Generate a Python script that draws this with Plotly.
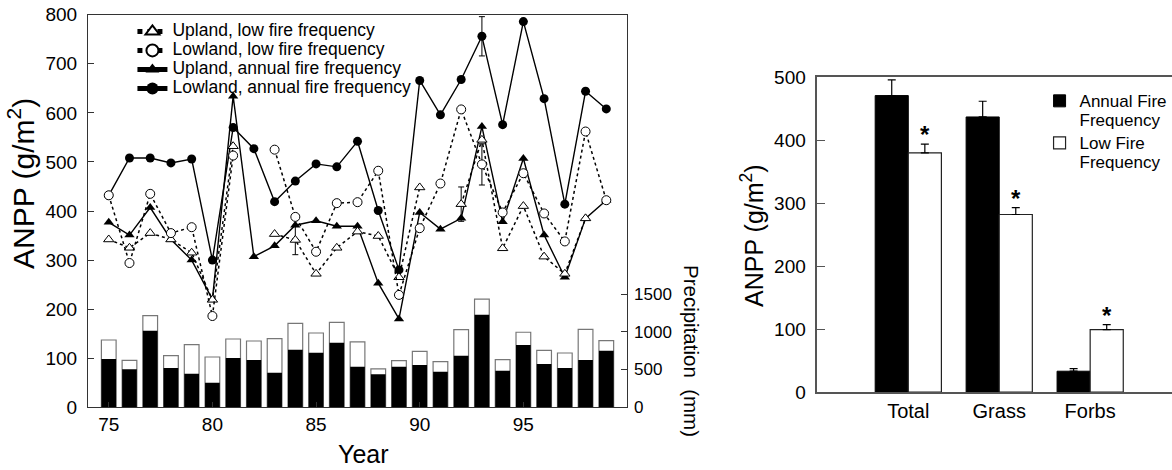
import plotly.graph_objects as go

# ---- Left panel: yearly ANPP by topography / fire regime, with precipitation ----
years = list(range(75, 100))

upland_low = [342, 325, 355, 342, 315, 219, 532, None, 353, 341, 272, 325, 358,
              349, 265, 448, None, 414, 545, 324, 410, 307, 272, 385, None]
lowland_low = [432, 294, 435, 355, 367, 186, 513, None, 525, 388, 317, 416, 418,
               482, 229, 365, 456, 607, 495, 397, 477, 395, 338, 562, 422]
upland_annual = [377, 351, 407, 342, 300, 220, 634, 307, 329, 371, 380, 369, 369,
                 253, 180, 397, 363, 385, 572, 378, 507, 351, 265, 385, 422]
lowland_annual = [432, 508, 508, 498, 506, 300, 570, 527, 419, 461, 496, 490, 542,
                  401, 280, 666, 596, 668, 756, 576, 786, 629, 414, 644, 608]

# standard errors shown only for a few years
upland_low_err = [None] * 9 + [30] + [None] * 7 + [35] + [None] * 7
lowland_low_err = [None] * 18 + [42] + [None] * 6
lowland_annual_err = [None] * 18 + [40] + [None] * 6

# precipitation (mm): annual total and growing-season part
precip_total = [891, 620, 1213, 683, 829, 666, 904, 878, 909, 1111, 984, 1125, 865,
                510, 617, 741, 604, 1028, 1433, 631, 994, 754, 719, 1032, 882]
precip_growing = [639, 503, 1014, 520, 445, 326, 652, 626, 458, 762, 723, 856, 538,
                  436, 538, 560, 472, 683, 1226, 485, 824, 573, 520, 626, 750]

year_ticks = [75, 80, 85, 90, 95]
precip_ticks = [0, 500, 1000, 1500]

# ---- Right panel: mean ANPP by component ----
components = ["Total", "Grass", "Forbs"]
annual_mean = [471, 437, 33]
annual_se = [25, 25, 4]
low_mean = [380, 282, 99]
low_se = [14, 11, 8]

FONT = "Liberation Sans, Arial, sans-serif"
BAR_W = 0.364
W, H = 1172, 470


def big(label, size):
    """Legend label rendered larger than the legend's nominal row height."""
    return "<br>".join(f'<span style="font-size:{size}px">{part}</span>'
                       for part in label.split("\n"))


fig = go.Figure()

# precipitation bars (right axis of left panel)
fig.add_trace(go.Bar(
    x=years, y=precip_total, xaxis="x", yaxis="y2", width=0.71, offset=-0.355,
    marker=dict(color="white", line=dict(color="#777", width=1.2)),
    showlegend=False, hoverinfo="skip"))
fig.add_trace(go.Bar(
    x=years, y=precip_growing, xaxis="x", yaxis="y2", width=0.71, offset=-0.355,
    marker=dict(color="black", line=dict(color="black", width=0)),
    showlegend=False, hoverinfo="skip"))

ebar = dict(type="data", color="black", thickness=1, width=3)

fig.add_trace(go.Scatter(
    x=years, y=upland_annual, xaxis="x", yaxis="y", mode="lines+markers",
    name=big("Upland, annual fire frequency", 17.5), legend="legend", legendrank=3,
    line=dict(color="black", width=1.4),
    marker=dict(symbol="triangle-up", size=9, color="black")))
fig.add_trace(go.Scatter(
    x=years, y=lowland_annual, xaxis="x", yaxis="y", mode="lines+markers",
    name=big("Lowland, annual fire frequency", 17.5), legend="legend", legendrank=4,
    line=dict(color="black", width=1.4),
    marker=dict(symbol="circle", size=9, color="black"),
    error_y=dict(array=lowland_annual_err, **ebar)))
fig.add_trace(go.Scatter(
    x=years, y=upland_low, xaxis="x", yaxis="y", mode="lines+markers",
    name=big("Upland, low fire frequency", 17.5), legend="legend", legendrank=1,
    line=dict(color="black", width=1.5, dash="dot"),
    marker=dict(symbol="triangle-up", size=9, color="white",
                line=dict(color="black", width=1)),
    error_y=dict(array=upland_low_err, **ebar)))
fig.add_trace(go.Scatter(
    x=years, y=lowland_low, xaxis="x", yaxis="y", mode="lines+markers",
    name=big("Lowland, low fire frequency", 17.5), legend="legend", legendrank=2,
    line=dict(color="black", width=1.5, dash="dot"),
    marker=dict(symbol="circle", size=9, color="white",
                line=dict(color="black", width=1)),
    error_y=dict(array=lowland_low_err, **ebar)))

# right panel bars with one-sided standard errors
fig.add_trace(go.Bar(
    x=components, y=annual_mean, xaxis="x2", yaxis="y3",
    width=BAR_W, offset=-BAR_W, name=big("Annual Fire\nFrequency", 17),
    legend="legend2", marker=dict(color="black", line=dict(color="black", width=1)),
    error_y=dict(type="data", symmetric=False, array=annual_se,
                 arrayminus=[0] * len(annual_se), color="black", thickness=1.2, width=4)))
fig.add_trace(go.Bar(
    x=components, y=low_mean, xaxis="x2", yaxis="y3",
    width=BAR_W, offset=0, name=big("Low Fire\nFrequency", 17),
    legend="legend2", marker=dict(color="white", line=dict(color="#222", width=1.2)),
    error_y=dict(type="data", symmetric=False, array=low_se,
                 arrayminus=[0] * len(low_se), color="black", thickness=1.2, width=4)))

title_common = dict(xref="paper", yref="paper", showarrow=False,
                    xanchor="center", yanchor="middle")
annotations = [
    dict(text="Year", x=363 / W, y=1 - 454 / H, font=dict(size=25), **title_common),
    dict(text="ANPP (g/m<sup>2</sup>)", x=21 / W, y=1 - 184 / H, textangle=-90,
         font=dict(size=30), **title_common),
    dict(text="ANPP (g/m<sup>2</sup>)", x=752 / W, y=1 - 236 / H, textangle=-90,
         font=dict(size=25), **title_common),
    dict(text="Precipitation\u00a0\u00a0(mm)", x=692 / W, y=1 - 351 / H,
         textangle=90, font=dict(size=20.5), **title_common),
]
# significance markers above the low-fire bars
for i, (m, s) in enumerate(zip(low_mean, low_se)):
    annotations.append(dict(
        text="<b>*</b>", x=i + BAR_W / 2, y=m + s, xref="x2", yref="y3",
        showarrow=False, xanchor="center", yanchor="bottom", yshift=-6,
        font=dict(size=24)))

axis_common = dict(showgrid=False, zeroline=False, ticks="inside", automargin=False)

fig.update_layout(
    width=W, height=H,
    margin=dict(l=0, r=0, t=0, b=0, pad=0, autoexpand=False),
    paper_bgcolor="white", plot_bgcolor="white",
    font=dict(family=FONT, color="black"),
    barmode="overlay",
    xaxis=dict(domain=[0.0751, 0.535], anchor="y", range=[74, 100],
               tickvals=year_ticks, ticklen=5, showline=True, mirror=True,
               linecolor="#333", linewidth=1.2, tickcolor="#333",
               tickfont=dict(size=19), **axis_common),
    yaxis=dict(domain=[0.1334, 0.9687], anchor="x", range=[0, 800], dtick=100,
               ticklen=6, showline=True, mirror=True, linecolor="#333",
               linewidth=1.2, tickcolor="#333", tickfont=dict(size=19),
               ticklabelstandoff=6, **axis_common),
    yaxis2=dict(overlaying="y", side="right", anchor="x", range=[0, 5198],
                tickvals=precip_ticks, ticklen=6, showline=False,
                tickcolor="#333", tickfont=dict(size=17),
                ticklabelstandoff=6, **axis_common),
    xaxis2=dict(domain=[0.6974, 1.0], anchor="y3", type="category",
                range=[-1, 2.9], showline=True, mirror=True, linecolor="#555",
                linewidth=1.5, showgrid=False, zeroline=False, ticks="",
                automargin=False, tickfont=dict(size=20)),
    yaxis3=dict(domain=[0.166, 0.8355], anchor="x2", range=[0, 500], dtick=100,
                ticklen=8, showline=True, linecolor="#555", linewidth=1.5,
                tickcolor="#555", tickfont=dict(size=19), ticklabelstandoff=6,
                **axis_common),
    legend=dict(x=0.113, y=0.964, xanchor="left", yanchor="top",
                bgcolor="rgba(0,0,0,0)", font=dict(size=11.5), tracegroupgap=0,
                itemsizing="constant"),
    legend2=dict(x=0.887, y=0.82, xanchor="left", yanchor="top",
                 bgcolor="rgba(0,0,0,0)", font=dict(size=15), valign="top",
                 tracegroupgap=0),
    annotations=annotations,
)

fig.write_html("out.html")
